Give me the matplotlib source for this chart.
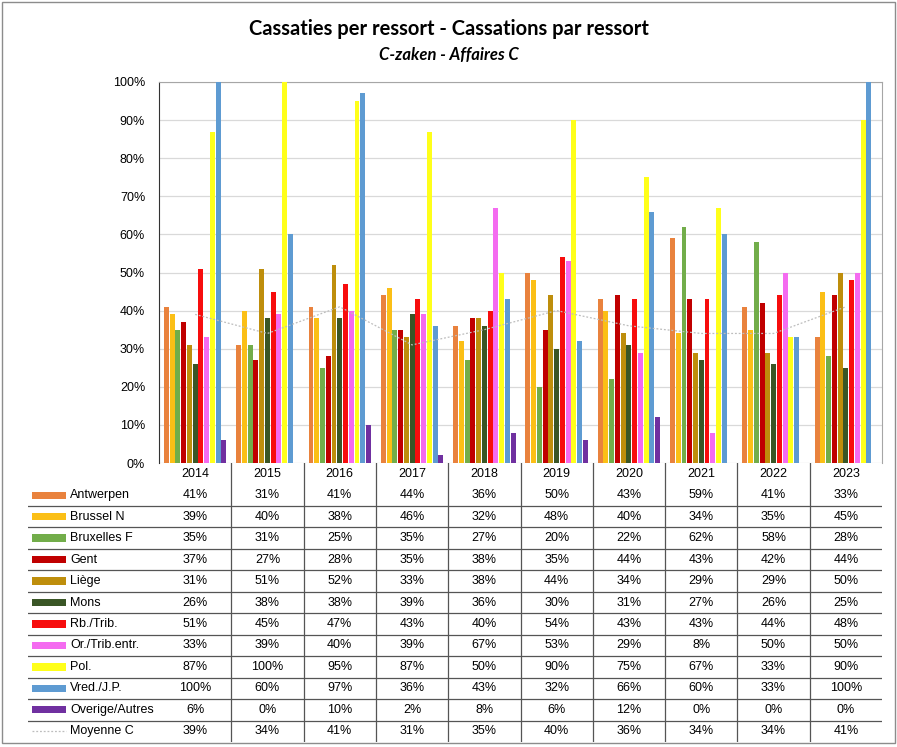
import numpy as np
import matplotlib
matplotlib.use("Agg")
import matplotlib.pyplot as plt
from matplotlib.patches import Rectangle

years = ["2014", "2015", "2016", "2017", "2018", "2019", "2020", "2021", "2022", "2023"]

antwerpen = [41, 31, 41, 44, 36, 50, 43, 59, 41, 33]
brussel_n = [39, 40, 38, 46, 32, 48, 40, 34, 35, 45]
bruxelles_f = [35, 31, 25, 35, 27, 20, 22, 62, 58, 28]
gent = [37, 27, 28, 35, 38, 35, 44, 43, 42, 44]
liege = [31, 51, 52, 33, 38, 44, 34, 29, 29, 50]
mons = [26, 38, 38, 39, 36, 30, 31, 27, 26, 25]
rb_trib = [51, 45, 47, 43, 40, 54, 43, 43, 44, 48]
or_trib = [33, 39, 40, 39, 67, 53, 29, 8, 50, 50]
pol = [87, 100, 95, 87, 50, 90, 75, 67, 33, 90]
vred = [100, 60, 97, 36, 43, 32, 66, 60, 33, 100]
overige = [6, 0, 10, 2, 8, 6, 12, 0, 0, 0]
moyenne = [39, 34, 41, 31, 35, 40, 36, 34, 34, 41]

series_names = ["Antwerpen", "Brussel N", "Bruxelles F", "Gent", "Liège", "Mons",
                "Rb./Trib.", "Or./Trib.entr.", "Pol.", "Vred./J.P.", "Overige/Autres"]
series_vals = [antwerpen, brussel_n, bruxelles_f, gent, liege, mons,
               rb_trib, or_trib, pol, vred, overige]
colors = ["#E9823D", "#FBBF16", "#72AD4A", "#C00000", "#BE8E0C", "#3A5626",
          "#F70D0D", "#F46BF0", "#FFFF1A", "#5E9BD2", "#7030A0"]

FONT = ["Liberation Sans", "DejaVu Sans"]
plt.rcParams["font.family"] = FONT
TITLE_FONT = ["Lato", "DejaVu Sans"]

W, H = 897, 747
fig = plt.figure(figsize=(W / 100, H / 100), dpi=100)

# frame around whole picture
fig.patches.append(Rectangle((1.5 / W, 4 / H), 893.5 / W, 741.5 / H, transform=fig.transFigure,
                             fill=False, edgecolor="#8C8C8C", linewidth=1.0))

fig.text(0.5, 1 - 29 / H, "Cassaties per ressort - Cassations par ressort", ha="center", va="center",
         fontsize=14.5, fontweight="bold", family=TITLE_FONT)
fig.text(0.5, 1 - 55 / H, "C-zaken - Affaires C", ha="center", va="center",
         fontsize=12, fontweight="bold", style="italic", family=TITLE_FONT)

# main chart axes
left_px, right_px, top_px, bot_px = 159, 882, 82, 463
ax = fig.add_axes([left_px / W, 1 - bot_px / H, (right_px - left_px) / W, (bot_px - top_px) / H])
x = np.arange(len(years))
slot = 0.0795
n = len(series_vals)
for i, (vals, c) in enumerate(zip(series_vals, colors)):
    ax.bar(x + (i - (n - 1) / 2) * slot, vals, width=slot * 0.86, color=c, zorder=3)
ax.plot(x, moyenne, color="#BDBDBD", linewidth=0.9, linestyle=(0, (1.5, 1.5)), zorder=4)

ax.set_xlim(-0.5, len(years) - 0.5)
ax.set_ylim(0, 100)
ax.set_yticks(range(0, 101, 10))
ax.set_yticklabels([f"{v}%" for v in range(0, 101, 10)], fontsize=9)
ax.tick_params(axis="y", length=0, pad=10)
ax.set_xticks([])
ax.grid(axis="y", color="#D9D9D9", linewidth=0.9, zorder=0)
ax.spines["left"].set_color("#333333")
ax.spines["bottom"].set_visible(False)
ax.spines["top"].set_color("#A6A6A6")
ax.spines["right"].set_color("#A6A6A6")

# data table under the chart
px_per_unit = (right_px - left_px) / len(years)
tab_left_px, tab_bot_px = 28, 742
ax_t = fig.add_axes([tab_left_px / W, 1 - tab_bot_px / H, (right_px - tab_left_px) / W,
                     (tab_bot_px - bot_px) / H])
x0 = -0.5 - (left_px - tab_left_px) / px_per_unit
ax_t.set_xlim(x0, len(years) - 0.5)
nrows = len(series_names) + 2
ax_t.set_ylim(nrows, 0)
ax_t.axis("off")


def px2x(p):
    return (p - left_px) / px_per_unit - 0.5


for j, yr in enumerate(years):
    ax_t.text(j, 0.5, yr, ha="center", va="center", fontsize=9)
for k in range(2, nrows):
    ax_t.plot([x0, len(years) - 0.5], [k, k], color="#555555", linewidth=0.9)
for j in range(len(years) - 1):
    ax_t.plot([j + 0.5, j + 0.5], [0, nrows - 0.05], color="#555555", linewidth=0.9)

for r, (name, vals, c) in enumerate(zip(series_names, series_vals, colors)):
    yc = r + 1.5
    ax_t.add_patch(Rectangle((px2x(32), yc - 0.17), (66 - 32) / px_per_unit, 0.34,
                             facecolor=c, edgecolor="none"))
    ax_t.text(px2x(70), yc, name, ha="left", va="center", fontsize=9)
    for j, v in enumerate(vals):
        ax_t.text(j, yc, f"{v}%", ha="center", va="center", fontsize=9)

yc = nrows - 0.5
ax_t.plot([px2x(32), px2x(66)], [yc, yc], color="#BDBDBD", linewidth=0.9, linestyle=(0, (1.5, 1.5)))
ax_t.text(px2x(70), yc, "Moyenne C", ha="left", va="center", fontsize=9)
for j, v in enumerate(moyenne):
    ax_t.text(j, yc, f"{v}%", ha="center", va="center", fontsize=9)

fig.savefig("out.png", dpi=100)
